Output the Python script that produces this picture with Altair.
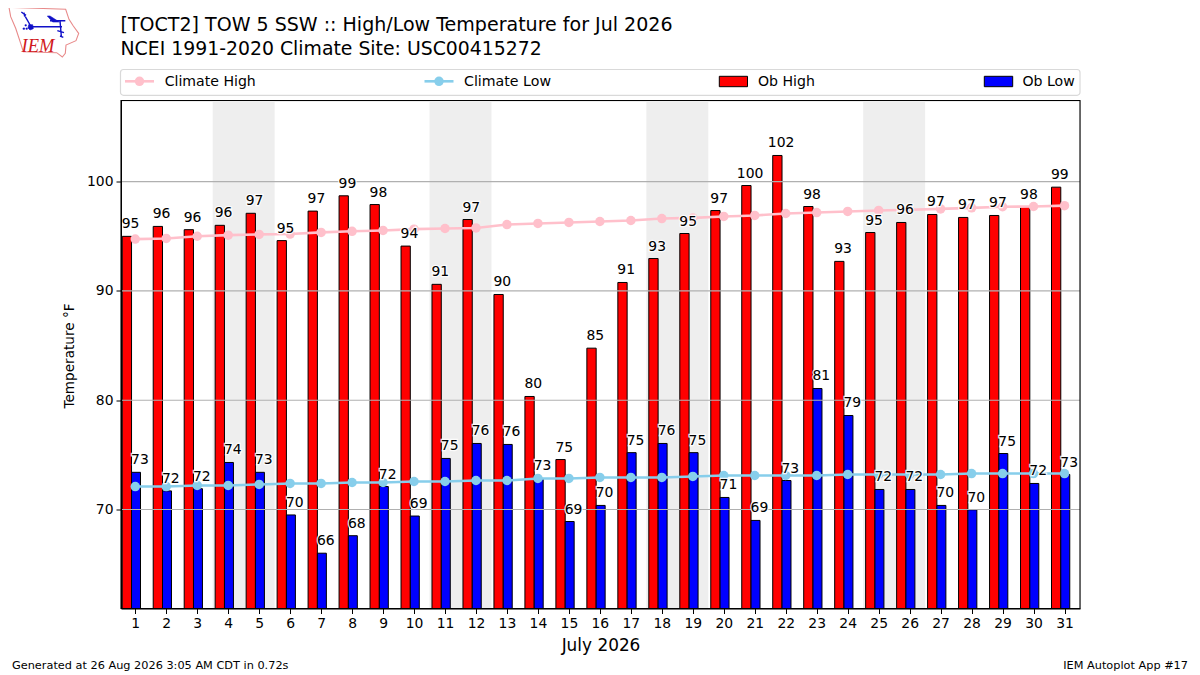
import altair as alt
import pandas as pd

days = list(range(1, 32))
ob_high = [94.99, 95.9, 95.6, 96.0, 97.1, 94.6, 97.3, 98.7, 97.9, 94.1, 90.6, 96.53, 89.67, 80.34, 74.57, 84.76,
           90.77, 92.96, 95.25, 97.35, 99.64, 102.39, 97.72, 92.7, 95.34, 96.26, 96.99, 96.72, 96.9, 97.72, 99.49]
ob_low = [73.4, 71.7, 71.9, 74.3, 73.4, 69.5, 66.0, 67.6, 72.1, 69.4, 74.67, 76.04, 75.95, 72.84, 68.9, 70.37,
          75.2, 76.04, 75.2, 71.1, 69.0, 72.65, 81.07, 78.6, 71.83, 71.83, 70.37, 69.97, 75.12, 72.38, 73.2]
clim_high = [94.74, 94.8, 95.0, 95.1, 95.17, 95.2, 95.35, 95.45, 95.53, 95.65, 95.71, 95.76, 96.07, 96.17, 96.26, 96.35,
             96.44, 96.62, 96.68, 96.81, 96.9, 97.08, 97.17, 97.27, 97.36, 97.42, 97.5, 97.6, 97.7, 97.72, 97.8]
clim_low = [72.1, 72.1, 72.2, 72.2, 72.29, 72.38, 72.38, 72.47, 72.47, 72.56, 72.56, 72.65, 72.65, 72.84, 72.84, 72.93,
            72.93, 72.93, 73.02, 73.11, 73.11, 73.11, 73.11, 73.2, 73.2, 73.2, 73.2, 73.29, 73.29, 73.29, 73.29]
weekend_start = [3.5, 10.5, 17.5, 24.5]
weekend_end = [5.5, 12.5, 19.5, 26.5]
y_ticks = [70, 80, 90, 100]

FONT = "DejaVu Sans"
X0, Y0, W, H = 121.0, 100.5, 959, 508

df = pd.DataFrame({"day": days, "hi": ob_high, "lo": ob_low, "ch": clim_high, "cl": clim_low})
bands = pd.DataFrame({"start": weekend_start, "end": weekend_end})
grid = pd.DataFrame({"v": y_ticks})
one = pd.DataFrame({"a": [0]})

xs = alt.Scale(domain=[0.54, 31.5], nice=False, zero=False)
ys = alt.Scale(domain=[60.94, 107.42], nice=False, zero=False)
xaxis = alt.Axis(values=days, grid=False, title="July 2026", titleFontSize=16.9, titleFont=FONT,
                 titleFontWeight="normal", titleColor="black", labelFont=FONT, labelFontSize=13.9,
                 labelColor="black", tickColor="black", domainColor="black", tickSize=5, labelPadding=3,
                 labelFlush=False, labelOverlap=False, format="d", zindex=1, titleY=42, titleBaseline="alphabetic")
yaxis = alt.Axis(values=y_ticks, grid=False, title="Temperature °F", titleFontSize=13.6, titleFont=FONT,
                 titleFontWeight="normal", titleColor="black", labelFont=FONT, labelFontSize=13.9,
                 labelColor="black", tickColor="black", domainColor="black", tickSize=5, labelPadding=3,
                 format="d", zindex=1, titleX=-45, titleY=255)


def X(f):
    return alt.X(f, scale=xs, axis=xaxis)


def Y(f):
    return alt.Y(f, scale=ys, axis=yaxis)


def px(v):
    return alt.value(v - X0)


def py(v):
    return alt.value(v - Y0)


def label(text, x, y, size=14.1, align="left", font=FONT, **kw):
    return alt.Chart(one).mark_text(text=text, font=font, fontSize=size, align=align, baseline="alphabetic",
                                    color=kw.pop("color", "black"), **kw).encode(x=px(x), y=py(y))


def shape_path(polys, cx=44, cy=32, half=40, close=True):
    out = ""
    for points in polys:
        for i, (a, b) in enumerate(points):
            u = (a / 3 - cx) / half
            v = (b / 3 - cy) / half
            out += ("M" if i == 0 else "L") + f"{u:.3f},{v:.3f}"
        if close:
            out += "Z"
    return out


def logo_shape(path, color, filled=False, width=1.0):
    return alt.Chart(one).mark_point(shape=path, size=6400, filled=filled, color=color, stroke=color,
                                     strokeWidth=width, opacity=1).encode(x=px(44), y=py(32))


band_l = alt.Chart(bands).mark_rect(color="#eeeeee").encode(x=X("start:Q"), x2="end:Q")
hi_bar = alt.Chart(df).transform_calculate(a="datum.day-0.42", b="datum.day-0.12").mark_rect(
    color="#ff0000", stroke="black", strokeWidth=1).encode(x=X("a:Q"), x2="b:Q", y=Y("hi:Q"), y2=alt.value(H))
lo_bar = alt.Chart(df).transform_calculate(a="datum.day-0.12", b="datum.day+0.17").mark_rect(
    color="#0000ff", stroke="black", strokeWidth=1).encode(x=X("a:Q"), x2="b:Q", y=Y("lo:Q"), y2=alt.value(H))
grid_l = alt.Chart(grid).mark_rule(color="#b0b0b0", strokeWidth=1.1).encode(y=Y("v:Q"))


def climate(field, color):
    base = alt.Chart(df).encode(x=X("day:Q"), y=Y(field + ":Q"))
    return base.mark_line(color=color, strokeWidth=2.6) + base.mark_point(
        filled=True, color=color, size=90, opacity=1)


def value_labels(field, offset):
    base = alt.Chart(df).transform_calculate(tx=f"datum.day+({offset})").encode(
        x=X("tx:Q"), y=Y(field + ":Q"), text=alt.Text(field + ":Q", format=".0f"))
    kw = dict(font=FONT, fontSize=13.9, align="center", baseline="alphabetic", dy=-8)
    return base.mark_text(stroke="white", strokeWidth=2.5, strokeOpacity=0.9, **kw) + base.mark_text(color="black", **kw)


legend_items = [
    alt.Chart(one).mark_rect(fill="white", stroke="#d9d9d9", strokeWidth=1.2, cornerRadius=3).encode(
        x=px(120.5), x2=px(1080), y=py(69.5), y2=py(95.3)),
    alt.Chart(one).mark_rule(color="#ffc0cb", strokeWidth=2.6).encode(x=px(125), x2=px(154), y=py(81.3)),
    alt.Chart(one).mark_point(filled=True, color="#ffc0cb", size=90, opacity=1).encode(x=px(139.5), y=py(81.3)),
    label("Climate High", 164.7, 86),
    alt.Chart(one).mark_rule(color="#87ceeb", strokeWidth=2.6).encode(x=px(424.5), x2=px(453.5), y=py(81.3)),
    alt.Chart(one).mark_point(filled=True, color="#87ceeb", size=90, opacity=1).encode(x=px(439), y=py(81.3)),
    label("Climate Low", 464, 86, size=14.2),
    alt.Chart(one).mark_rect(color="#ff0000", stroke="black", strokeWidth=1).encode(
        x=px(719.3), x2=px(747.5), y=py(76.3), y2=py(86.7)),
    label("Ob High", 758, 86),
    alt.Chart(one).mark_rect(color="#0000ff", stroke="black", strokeWidth=1).encode(
        x=px(984.3), x2=px(1012.7), y=py(76.3), y2=py(86.7)),
    label("Ob Low", 1022.5, 86),
]

iowa = [[(27, 22), (197, 28), (207, 58), (220, 78), (236, 100), (228, 122), (198, 135), (196, 160), (187, 171),
         (170, 158), (70, 155), (62, 130), (47, 85), (32, 50)]]
staff = [[(64, 36), (78, 46)], [(72, 38), (74, 50)], [(76, 50), (92, 78)], [(92, 80), (186, 80)],
         [(150, 62), (196, 62)], [(180, 62), (184, 108)], [(172, 92), (192, 98)], [(180, 108), (190, 112)]]
solid = [[(142, 48), (150, 48), (178, 66), (158, 66)],
         [(86, 74), (98, 74), (100, 86), (90, 90), (84, 84)],
         [(69, 84), (74, 84), (74, 88), (69, 88)], [(75, 74), (79, 74), (79, 78), (75, 78)],
         [(78, 84), (82, 84), (82, 88), (78, 88)]]
logo = [logo_shape(shape_path(iowa), "#e88a8a", width=1.1),
        logo_shape(shape_path(staff, close=False), "#1010c8", width=1.4),
        logo_shape(shape_path(solid), "#1010c8", filled=True, width=0.6),
        label("IEM", 21.5, 52, size=18.5, font="Liberation Serif", color="#d01820", fontStyle="italic")]

frame = alt.Chart(one).mark_rect(fillOpacity=0, stroke="black", strokeWidth=1.1).encode(
    x=alt.value(0), x2=alt.value(W), y=alt.value(0), y2=alt.value(H))

texts = [
    label("[TOCT2] TOW 5 SSW :: High/Low Temperature for Jul 2026", 120.5, 30.5, size=19.05),
    label("NCEI 1991-2020 Climate Site: USC00415272", 120.5, 54.5, size=18.85),
    label("Generated at 26 Aug 2026 3:05 AM CDT in 0.72s", 12, 669, size=11.3),
    label("IEM Autoplot App #17", 1188, 669, size=11.3, align="right"),
]

chart = alt.layer(
    band_l, hi_bar, lo_bar, grid_l, climate("ch", "#ffc0cb"), climate("cl", "#87ceeb"),
    value_labels("hi", -0.15), value_labels("lo", 0.15), frame, *legend_items, *logo, *texts
).properties(
    width=W, height=H,
    autosize=alt.AutoSizeParams(type="none"),
    padding={"left": 113, "top": 92.5, "right": 112, "bottom": 66},
).configure_view(stroke=None).configure(background="white")

chart.save("out.html", embed_options={"renderer": "svg", "actions": False})
